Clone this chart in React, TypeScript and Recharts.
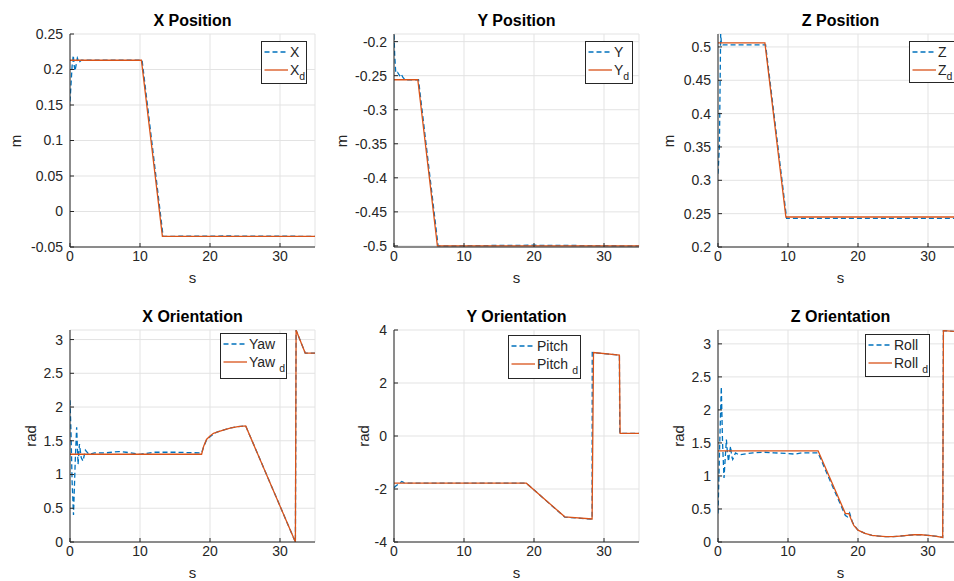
import { LineChart, Line, XAxis, YAxis, CartesianGrid } from "recharts";

const BLUE = "#0072BD";
const ORANGE = "#D95319";
const AXIS = "#262626";
const GRID = "#e3e3e3";
const FONT = "'Liberation Sans', Arial, Helvetica, sans-serif";

const timeTicks = [0, 10, 20, 30];

// X position (m)
const xPosTicks = [-0.05, 0, 0.05, 0.1, 0.15, 0.2, 0.25];
const xPosActualT = [0, 0.15, 0.3, 0.47, 0.6, 0.72, 0.9, 1.05, 1.3, 1.6, 10.3, 13.3, 22, 35];
const xPosActualV = [0.155, 0.18, 0.205, 0.22, 0.205, 0.198, 0.208, 0.216, 0.21, 0.213, 0.213, -0.035, -0.0345, -0.035];
const xPosDesiredT = [0, 10.2, 13.2, 35];
const xPosDesiredV = [0.213, 0.213, -0.035, -0.035];

// Y position (m)
const yPosTicks = [-0.5, -0.45, -0.4, -0.35, -0.3, -0.25, -0.2];
const yPosActualT = [0, 0.1, 0.25, 0.5, 0.8, 1.0, 1.3, 1.6, 3.5, 6.3, 19.5, 35];
const yPosActualV = [-0.19, -0.22, -0.246, -0.245, -0.25, -0.247, -0.253, -0.256, -0.256, -0.5, -0.499, -0.5];
const yPosDesiredT = [0, 3.4, 6.2, 35];
const yPosDesiredV = [-0.256, -0.256, -0.5, -0.5];

// Z position (m)
const zPosTicks = [0.2, 0.25, 0.3, 0.35, 0.4, 0.45, 0.5];
const zPosActualT = [0, 0.2, 0.38, 0.5, 0.7, 6.8, 9.8, 35];
const zPosActualV = [0.31, 0.35, 0.52, 0.504, 0.503, 0.503, 0.243, 0.243];
const zPosDesiredT = [0, 6.7, 9.7, 35];
const zPosDesiredV = [0.506, 0.506, 0.245, 0.245];

// Yaw (rad)
const yawTicks = [0, 0.5, 1, 1.5, 2, 2.5, 3];
const yawActualT = [0, 0.15, 0.3, 0.5, 0.75, 0.95, 1.15, 1.35, 1.6, 1.85, 2.2, 2.7, 3.5, 5, 7, 8, 10, 12, 15, 18.8, 19.1, 19.5, 20, 20.5, 21, 22, 23, 24, 25.1, 32.2, 32.3, 33.6, 35];
const yawActualV = [2.1, 1.6, 0.9, 0.4, 1.2, 1.7, 1.15, 1.45, 1.25, 1.2, 1.36, 1.3, 1.32, 1.32, 1.34, 1.33, 1.3, 1.33, 1.33, 1.32, 1.41, 1.51, 1.56, 1.6, 1.63, 1.66, 1.69, 1.71, 1.72, 0, 3.14, 2.8, 2.8];
const yawDesiredT = [0, 18.8, 19.1, 19.5, 20, 20.5, 21, 22, 23, 24, 25.1, 32.2, 32.3, 33.6, 35];
const yawDesiredV = [1.3, 1.3, 1.42, 1.52, 1.57, 1.61, 1.63, 1.66, 1.69, 1.71, 1.72, 0, 3.14, 2.8, 2.8];

// Pitch (rad)
const pitchTicks = [-4, -2, 0, 2, 4];
const pitchActualT = [0, 0.3, 0.7, 1.1, 1.5, 2, 18.9, 24.4, 28.3, 28.32, 32.2, 32.25, 35];
const pitchActualV = [-1.95, -1.88, -1.8, -1.72, -1.77, -1.78, -1.78, -3.06, -3.14, 3.15, 3.05, 0.1, 0.1];
const pitchDesiredT = [0, 18.9, 24.4, 28.3, 28.5, 32.2, 32.3, 35];
const pitchDesiredV = [-1.78, -1.78, -3.05, -3.13, 3.15, 3.05, 0.1, 0.1];

// Roll (rad)
const rollTicks = [0, 0.5, 1, 1.5, 2, 2.5, 3];
const rollActualT = [0, 0.25, 0.47, 0.65, 0.86, 1.05, 1.2, 1.35, 1.5, 1.65, 1.8, 1.95, 2.1, 2.5, 3, 5, 6.5, 8, 10, 11, 12, 14.3, 16, 18.2, 18.5, 18.8, 19.2, 19.5, 20, 21, 22, 23, 24, 25, 26, 27, 28, 29, 30, 31, 32.1, 32.2, 35];
const rollActualV = [0.43, 1.5, 2.35, 1.5, 0.97, 1.3, 1.55, 1.35, 1.22, 1.35, 1.45, 1.3, 1.25, 1.35, 1.32, 1.35, 1.36, 1.35, 1.34, 1.33, 1.35, 1.35, 0.93, 0.4, 0.38, 0.44, 0.3, 0.25, 0.18, 0.13, 0.1, 0.09, 0.08, 0.08, 0.09, 0.1, 0.11, 0.11, 0.1, 0.09, 0.07, 3.2, 3.18];
const rollDesiredT = [0, 14.3, 18.2, 18.7, 19.0, 19.4, 20, 21, 22, 23, 24, 25, 26, 27, 28, 29, 30, 31, 32.1, 32.2, 35];
const rollDesiredV = [1.38, 1.38, 0.43, 0.43, 0.35, 0.25, 0.18, 0.13, 0.1, 0.09, 0.08, 0.08, 0.09, 0.1, 0.11, 0.11, 0.1, 0.09, 0.07, 3.2, 3.18];

const toPoints = (t: number[], v: number[]) => t.map((x, i) => ({ t: x, v: v[i] }));
const fmt = (v: number) => String(+v.toFixed(2));

const PLOT_W = 245;
const AXIS_W = 70;

type Pt = { t: number; v: number };

interface PanelProps {
  title: string;
  yLabel: string;
  yLabelX: number;
  left: number;
  top: number;
  height: number;
  yDomain: [number, number];
  yTicks: number[];
  actual: Pt[];
  desired: Pt[];
  name: string;
  spaced: boolean;
  legend: { x: number; y: number; w: number; h: number };
}

const tickStyle = { fontSize: 14, fill: AXIS, fontFamily: FONT };

function LegendBox({ name, spaced, legend }: Pick<PanelProps, "name" | "spaced" | "legend">) {
  const row = (dashed: boolean, sub: boolean, y: number) => (
    <div style={{ position: "absolute", left: 0, top: y - 8, height: 16, display: "flex", alignItems: "center" }}>
      <svg width={28} height={16} style={{ display: "block" }}>
        <line
          x1={2.5}
          x2={26}
          y1={8}
          y2={8}
          stroke={dashed ? BLUE : ORANGE}
          strokeWidth={1.3}
          strokeDasharray={dashed ? "5 3" : undefined}
        />
      </svg>
      <span style={{ marginLeft: 0, fontSize: 14, color: AXIS, lineHeight: "16px", whiteSpace: "nowrap" }}>
        {name}
        {sub && (
          <span style={{ fontSize: 10.5, position: "relative", top: 5, marginLeft: spaced ? 4 : 0 }}>d</span>
        )}
      </span>
    </div>
  );
  return (
    <div
      style={{
        position: "absolute",
        left: legend.x,
        top: legend.y,
        width: legend.w,
        height: legend.h,
        boxSizing: "border-box",
        border: `1px solid ${AXIS}`,
        background: "#fff",
      }}
    >
      {row(true, false, 10)}
      {row(false, true, 28)}
    </div>
  );
}

function Panel(p: PanelProps) {
  const chartW = AXIS_W + PLOT_W + 10;
  const chartH = 10 + p.height + 40;
  return (
    <>
      <div style={{ position: "absolute", left: p.left - AXIS_W, top: p.top - 10 }}>
        <LineChart width={chartW} height={chartH} margin={{ top: 10, right: 10, bottom: 0, left: 0 }}>
          <CartesianGrid stroke={GRID} strokeWidth={1} />
          <XAxis
            dataKey="t"
            type="number"
            domain={[0, 35]}
            ticks={timeTicks}
            height={40}
            stroke={AXIS}
            tick={tickStyle}
            tickSize={-4}
            tickMargin={8}
            allowDataOverflow
          />
          <XAxis
            xAxisId="top"
            orientation="top"
            type="number"
            domain={[0, 35]}
            ticks={timeTicks}
            height={0}
            stroke={AXIS}
            tick={false}
            tickSize={-4}
            allowDataOverflow
          />
          <YAxis
            type="number"
            domain={p.yDomain}
            ticks={p.yTicks}
            width={AXIS_W}
            stroke={AXIS}
            tick={tickStyle}
            tickFormatter={fmt}
            tickSize={-4}
            tickMargin={11}
            allowDataOverflow
          />
          <YAxis
            yAxisId="right"
            orientation="right"
            type="number"
            domain={p.yDomain}
            ticks={p.yTicks}
            width={0}
            stroke={AXIS}
            tick={false}
            tickSize={-4}
            allowDataOverflow
          />
          <Line
            data={p.actual}
            dataKey="v"
            type="linear"
            stroke={BLUE}
            strokeWidth={1.3}
            strokeDasharray="5 3"
            dot={false}
            isAnimationActive={false}
          />
          <Line
            data={p.desired}
            dataKey="v"
            type="linear"
            stroke={ORANGE}
            strokeWidth={1.3}
            dot={false}
            isAnimationActive={false}
          />
        </LineChart>
      </div>
      <div
        style={{
          position: "absolute",
          left: p.left,
          width: PLOT_W,
          top: p.top - 21,
          textAlign: "center",
          fontSize: 16,
          fontWeight: "bold",
          lineHeight: "16px",
          color: "#000",
        }}
      >
        {p.title}
      </div>
      <div
        style={{
          position: "absolute",
          left: p.left,
          width: PLOT_W,
          top: p.top + p.height + 24,
          textAlign: "center",
          fontSize: 15,
          lineHeight: "14px",
          color: AXIS,
        }}
      >
        s
      </div>
      <div
        style={{
          position: "absolute",
          left: p.yLabelX,
          top: p.top + p.height / 2,
          transform: "translate(-50%, -50%) rotate(-90deg)",
          fontSize: 15,
          lineHeight: "15px",
          color: AXIS,
          whiteSpace: "nowrap",
        }}
      >
        {p.yLabel}
      </div>
      <LegendBox name={p.name} spaced={p.spaced} legend={p.legend} />
    </>
  );
}

export default function App() {
  const panels: PanelProps[] = [
    {
      title: "X Position", yLabel: "m", yLabelX: 15, left: 70, top: 34, height: 213,
      yDomain: [-0.05, 0.25], yTicks: xPosTicks,
      actual: toPoints(xPosActualT, xPosActualV), desired: toPoints(xPosDesiredT, xPosDesiredV),
      name: "X", spaced: false, legend: { x: 261, y: 41, w: 46, h: 43 },
    },
    {
      title: "Y Position", yLabel: "m", yLabelX: 341, left: 394, top: 34, height: 213,
      yDomain: [-0.5016, -0.1888], yTicks: yPosTicks,
      actual: toPoints(yPosActualT, yPosActualV), desired: toPoints(yPosDesiredT, yPosDesiredV),
      name: "Y", spaced: false, legend: { x: 585, y: 41, w: 48, h: 43 },
    },
    {
      title: "Z Position", yLabel: "m", yLabelX: 668, left: 718, top: 34, height: 213,
      yDomain: [0.2, 0.5194], yTicks: zPosTicks,
      actual: toPoints(zPosActualT, zPosActualV), desired: toPoints(zPosDesiredT, zPosDesiredV),
      name: "Z", spaced: false, legend: { x: 909, y: 41, w: 50, h: 42 },
    },
    {
      title: "X Orientation", yLabel: "rad", yLabelX: 30, left: 70, top: 329.5, height: 212,
      yDomain: [0, 3.1416], yTicks: yawTicks,
      actual: toPoints(yawActualT, yawActualV), desired: toPoints(yawDesiredT, yawDesiredV),
      name: "Yaw", spaced: true, legend: { x: 220, y: 333, w: 67, h: 46 },
    },
    {
      title: "Y Orientation", yLabel: "rad", yLabelX: 363, left: 394, top: 329.5, height: 212,
      yDomain: [-4, 4], yTicks: pitchTicks,
      actual: toPoints(pitchActualT, pitchActualV), desired: toPoints(pitchDesiredT, pitchDesiredV),
      name: "Pitch", spaced: true, legend: { x: 508, y: 335, w: 73, h: 44 },
    },
    {
      title: "Z Orientation", yLabel: "rad", yLabelX: 678, left: 718, top: 329.5, height: 212,
      yDomain: [0, 3.21], yTicks: rollTicks,
      actual: toPoints(rollActualT, rollActualV), desired: toPoints(rollDesiredT, rollDesiredV),
      name: "Roll", spaced: true, legend: { x: 865, y: 334, w: 65, h: 43 },
    },
  ];

  return (
    <div
      style={{
        position: "absolute",
        left: 0,
        top: 0,
        width: 954,
        height: 581,
        overflow: "hidden",
        background: "#fff",
        fontFamily: FONT,
      }}
    >
      {panels.map((p) => (
        <Panel key={p.title} {...p} />
      ))}
    </div>
  );
}
